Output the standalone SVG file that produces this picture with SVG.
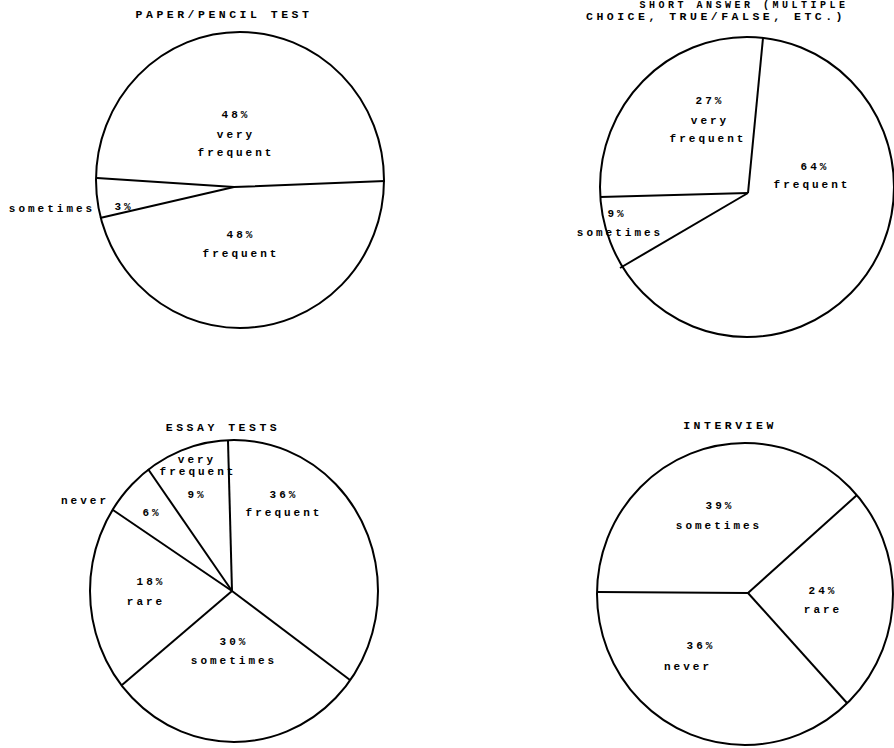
<svg xmlns="http://www.w3.org/2000/svg" width="894" height="748" viewBox="0 0 894 748">
<style>
.c{fill:none;stroke:#000;stroke-width:2}
.l{stroke:#000;stroke-width:2;fill:none}
text{font-family:"Liberation Mono","DejaVu Sans Mono",monospace;font-weight:bold;font-size:11px;letter-spacing:3px;fill:#000;text-anchor:middle}
.t{font-size:11.5px;letter-spacing:3.5px}
</style>
<rect width="894" height="748" fill="#fff"/>
<g id="chart-paper-pencil">
<text class="t" x="224" y="18">PAPER/PENCIL TEST</text>
<ellipse class="c" cx="240" cy="180" rx="144" ry="148"/>
<text x="236" y="118">48%</text>
<text x="236" y="138">very</text>
<text x="236" y="156">frequent</text>
<text x="241" y="238">48%</text>
<text x="241" y="257">frequent</text>
<text x="52" y="212">sometimes</text>
<text x="124" y="210">3%</text>
</g>
<g id="chart-short-answer">
<text class="t" x="744" y="8" style="font-size:10px">SHORT ANSWER (MULTIPLE</text>
<text class="t" x="716" y="20">CHOICE, TRUE/FALSE, ETC.)</text>
<ellipse class="c" cx="747" cy="187" rx="147" ry="150"/>
<text x="710" y="104">27%</text>
<text x="710" y="124">very</text>
<text x="708" y="142">frequent</text>
<text x="815" y="170">64%</text>
<text x="812" y="188">frequent</text>
<text x="617" y="217">9%</text>
<text x="620" y="236">sometimes</text>
</g>
<g id="chart-essay">
<text class="t" x="223" y="431">ESSAY TESTS</text>
<ellipse class="c" cx="234" cy="591" rx="144" ry="151"/>
<text x="197" y="463">very</text>
<text x="198" y="475">frequent</text>
<text x="197" y="498">9%</text>
<text x="284" y="498">36%</text>
<text x="284" y="516">frequent</text>
<text x="85" y="504">never</text>
<text x="152" y="516">6%</text>
<text x="151" y="585">18%</text>
<text x="146" y="605">rare</text>
<text x="234" y="645">30%</text>
<text x="234" y="664">sometimes</text>
</g>
<g id="chart-interview">
<text class="t" x="730" y="429">INTERVIEW</text>
<ellipse class="c" cx="745" cy="594" rx="148" ry="151"/>
<text x="720" y="509">39%</text>
<text x="719" y="529">sometimes</text>
<text x="823" y="594">24%</text>
<text x="823" y="613">rare</text>
<text x="701" y="649">36%</text>
<text x="688" y="670">never</text>
</g>
<g id="connectors">
<polyline class="l" points="97,178 234,187 385,181"/>
<line class="l" x1="234" y1="187" x2="100" y2="218"/>
<line class="l" x1="748" y1="193" x2="763" y2="38"/>
<line class="l" x1="748" y1="193" x2="600" y2="197"/>
<line class="l" x1="748" y1="193" x2="620" y2="268"/>
<line class="l" x1="232" y1="591" x2="228" y2="441"/>
<line class="l" x1="232" y1="591" x2="148" y2="469"/>
<line class="l" x1="232" y1="591" x2="113" y2="510"/>
<line class="l" x1="232" y1="591" x2="122" y2="685"/>
<line class="l" x1="232" y1="591" x2="350" y2="680"/>
<line class="l" x1="748" y1="593" x2="598" y2="592"/>
<line class="l" x1="748" y1="593" x2="857" y2="495"/>
<line class="l" x1="748" y1="593" x2="847" y2="703"/>
</g>
</svg>
